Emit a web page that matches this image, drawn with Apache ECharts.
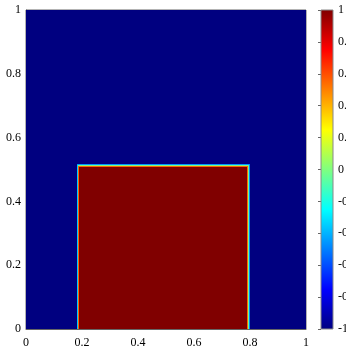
<!DOCTYPE html>
<html><head><meta charset="utf-8">
<script src="https://cdn.jsdelivr.net/npm/echarts@6/dist/echarts.min.js"></script>
<style>html,body{margin:0;padding:0;background:#fff;}#c{width:346px;height:349px;}</style>
</head><body><div id="c"></div>
<script>
// Field sampled on a non-uniform grid: column edges (x), row edges (y), values per cell
const xEdges = [0, 0.1815, 0.1845, 0.1875, 0.7905, 0.794, 0.7975, 0.801, 1];
const yEdges = [0, 0.5085, 0.5115, 0.5145, 0.5175, 1];
// rows from bottom to top, columns from left to right
const fieldValues = [
  [-1, -0.35, 0.55, 1,    0.55, -0.05, -0.5, -1],
  [-1, -0.35, 0.55, 0.55, 0.55, -0.05, -0.5, -1],
  [-1, -0.35, 0,    0,    0,    -0.05, -0.5, -1],
  [-1, -0.45, -0.45,-0.45,-0.45,-0.45, -0.5, -1],
  [-1, -1,    -1,   -1,   -1,   -1,    -1,   -1]
];
const colorMin = -1, colorMax = 1;
const axisMin = 0, axisMax = 1, axisStep = 0.2;
const cbarStep = 0.2;

// jet colormap
const jetStops = [[0,[0,0,0.5]],[0.125,[0,0,1]],[0.375,[0,1,1]],[0.625,[1,1,0]],[0.875,[1,0,0]],[1,[0.5,0,0]]];
function jet(t){
  t = Math.max(0, Math.min(1, t));
  for (let k = 0; k < jetStops.length - 1; k++) {
    const a = jetStops[k], b = jetStops[k+1];
    if (t <= b[0]) {
      const f = (t - a[0]) / (b[0] - a[0]);
      const c = a[1].map((v, i) => Math.round(255 * (v + (b[1][i] - v) * f)));
      return 'rgb(' + c.join(',') + ')';
    }
  }
  return 'rgb(128,0,0)';
}
function valColor(v){ return jet((v - colorMin) / (colorMax - colorMin)); }

const cells = [];
for (let r = 0; r < fieldValues.length; r++) {
  for (let c = 0; c < fieldValues[r].length; c++) {
    cells.push([xEdges[c], xEdges[c+1], yEdges[r], yEdges[r+1], fieldValues[r][c]]);
  }
}

const fontFamily = 'Liberation Serif, Times New Roman, serif';
const chart = echarts.init(document.getElementById('c'), null, {renderer: 'canvas'});
chart.setOption({
  animation: false,
  grid: [
    {left: 26, top: 10, width: 280, height: 319, show: true, borderColor: '#666', borderWidth: 1,
     backgroundColor: 'transparent', outerBoundsMode: 'none', containLabel: false},
    {left: 321, top: 10, width: 12, height: 319, show: false, outerBoundsMode: 'none', containLabel: false}
  ],
  xAxis: [
    {gridIndex: 0, type: 'value', min: axisMin, max: axisMax, interval: axisStep,
     axisLine: {show: true, lineStyle: {color: '#666'}}, axisTick: {show: false}, splitLine: {show: false},
     axisLabel: {color: '#000', fontFamily: fontFamily, fontSize: 12, margin: 8}},
    {gridIndex: 1, type: 'value', min: 0, max: 1, show: false}
  ],
  yAxis: [
    {gridIndex: 0, type: 'value', min: axisMin, max: axisMax, interval: axisStep,
     axisLine: {show: true, lineStyle: {color: '#666'}}, axisTick: {show: false}, splitLine: {show: false},
     axisLabel: {color: '#000', fontFamily: fontFamily, fontSize: 12, margin: 5}},
    {gridIndex: 1, type: 'value', min: colorMin, max: colorMax, interval: cbarStep, position: 'right',
     axisLine: {show: false}, axisTick: {show: true, inside: true, length: 3, lineStyle: {color: '#666'}},
     splitLine: {show: false},
     axisLabel: {color: '#000', fontFamily: fontFamily, fontSize: 12, margin: 5}}
  ],
  series: [
    {
      type: 'custom', xAxisIndex: 0, yAxisIndex: 0, clip: true,
      encode: {x: [0, 1], y: [2, 3]},
      data: cells,
      renderItem: function(params, api){
        const p0 = api.coord([api.value(0), api.value(2)]);
        const p1 = api.coord([api.value(1), api.value(3)]);
        const x0 = Math.round(p0[0]), x1 = Math.round(p1[0]);
        const y0 = Math.round(p0[1]), y1 = Math.round(p1[1]);
        return {type: 'rect',
          shape: {x: x0, y: y1, width: x1 - x0, height: y0 - y1},
          style: {fill: valColor(api.value(4))}};
      },
      z: 1
    },
    {
      type: 'custom', xAxisIndex: 1, yAxisIndex: 1,
      encode: {x: [0, 1], y: [2, 3]},
      data: [[0, 1, colorMin, colorMax]],
      renderItem: function(params, api){
        const p0 = api.coord([api.value(0), api.value(2)]);
        const p1 = api.coord([api.value(1), api.value(3)]);
        const stops = jetStops.map(s => ({offset: 1 - s[0], color: jet(s[0])}));
        stops.reverse();
        return {type: 'rect',
          shape: {x: p0[0], y: p1[1], width: p1[0] - p0[0], height: p0[1] - p1[1]},
          style: {fill: new echarts.graphic.LinearGradient(0, 0, 0, 1, stops), stroke: '#888', lineWidth: 1}};
      }
    }
  ]
});
</script>
</body></html>
